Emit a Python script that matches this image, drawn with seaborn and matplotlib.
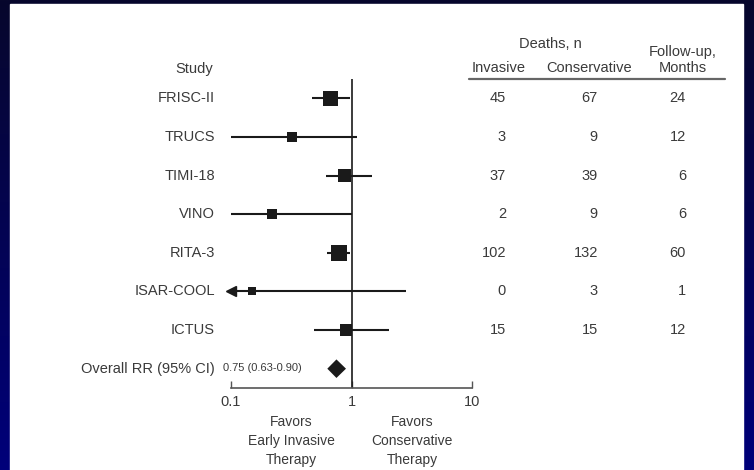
import numpy as np
import pandas as pd
import matplotlib
matplotlib.use("Agg")
import matplotlib.pyplot as plt
import matplotlib.transforms as mtransforms
from matplotlib.colors import LinearSegmentedColormap
from matplotlib.patches import Rectangle
from matplotlib.ticker import NullLocator
import seaborn as sns

# data
studies = ["FRISC-II", "TRUCS", "TIMI-18", "VINO", "RITA-3", "ISAR-COOL", "ICTUS"]
rr = [0.67, 0.32, 0.88, 0.22, 0.79, 0.15, 0.90]
ci_low = [0.47, 0.10, 0.62, 0.10, 0.63, 0.05, 0.49]
ci_high = [0.98, 1.12, 1.49, 1.00, 0.98, 2.86, 2.03]
weight = [15, 10, 13, 10, 16, 8, 12]  # relative box size
deaths_invasive = [45, 3, 37, 2, 102, 0, 15]
deaths_conservative = [67, 9, 39, 9, 132, 3, 15]
followup_months = [24, 12, 6, 6, 60, 1, 12]

overall_rr = 0.75
overall_low = 0.63
overall_high = 0.90

ink = "#1a1a1a"
txt = "#3a3a3a"

sns.set_theme(style="white")
plt.rcParams["font.family"] = ["Liberation Sans", "DejaVu Sans"]

W, H = 754, 470
fig = plt.figure(figsize=(W / 100, H / 100), dpi=100)

# slide background: navy gradient with white panel
bg = fig.add_axes([0, 0, 1, 1], zorder=-10)
grad = np.linspace(0, 1, 256).reshape(-1, 1)
cmap = LinearSegmentedColormap.from_list("slide", ["#07072c", "#00007a"])
bg.imshow(grad, aspect="auto", cmap=cmap, extent=[0, 1, 0, 1], origin="upper")
bg.add_patch(Rectangle((10 / W, 0), (743 - 10) / W, (H - 4) / H,
                       transform=bg.transAxes, color="white"))
bg.set_xlim(0, 1)
bg.set_ylim(0, 1)
bg.axis("off")

# forest plot axes
ax = fig.add_axes([231 / W, (H - 388) / H, 241 / W, (388 - 79) / H])
ax.patch.set_alpha(0)

n = len(studies)
df = pd.DataFrame({
    "study": studies, "rr": rr, "lo": ci_low, "hi": ci_high,
    "weight": weight, "row": np.arange(n),
})

ax.set_xscale("log")
ax.set_xlim(0.1, 10)
ax.set_ylim(n + 0.5, -0.5)

ax.hlines(df["row"], df["lo"].clip(lower=0.1), df["hi"], color=ink, lw=1.5, zorder=2)
trunc = df[df["lo"] < 0.1]
ax.plot(np.full(len(trunc), 0.1), trunc["row"], marker="<", ms=7, color=ink,
        ls="none", clip_on=False, zorder=3)

sns.scatterplot(data=df, x="rr", y="row", marker="s", s=(df["weight"] * 0.72) ** 2,
                color=ink, linewidth=0, ax=ax, zorder=3, legend=False)

# pooled estimate diamond
ax.fill([overall_low, overall_rr, overall_high, overall_rr],
        [n, n - 0.24, n, n + 0.24], color=ink, lw=0, zorder=3)

ax.axvline(1, color=ink, lw=1.2, zorder=1)

sns.despine(ax=ax, left=True)
ax.spines["bottom"].set_color("#555555")
ax.spines["bottom"].set_linewidth(1.2)
ax.set_yticks([])
ax.set_xticks([0.1, 1, 10])
ax.set_xticklabels(["0.1", "1", "10"])
ax.xaxis.set_minor_locator(NullLocator())
ax.tick_params(axis="x", bottom=True, direction="in", length=5, width=1,
               color="#555555", labelsize=10.5, labelcolor=txt, pad=5)
ax.set_xlabel("")
ax.set_ylabel("")

# text columns: x in figure fraction, y in row units
trans = mtransforms.blended_transform_factory(fig.transFigure, ax.transData)

for i, name in enumerate(studies + ["Overall RR (95% CI)"]):
    ax.text(215 / W, i, name, transform=trans, ha="right", va="center",
            fontsize=10.5, color=txt)

ax.text(223 / W, n - 0.02,
        f"{overall_rr:.2f} ({overall_low:.2f}-{overall_high:.2f})",
        transform=trans, ha="left", va="center", fontsize=8, color=txt)

for col_x, values in zip([506, 598, 686],
                         [deaths_invasive, deaths_conservative, followup_months]):
    for i, v in enumerate(values):
        ax.text(col_x / W, i, str(v), transform=trans, ha="right", va="center",
                fontsize=10.5, color=txt)

ax.text(213 / W, -0.75, "Study", transform=trans, ha="right", va="center",
        fontsize=10.5, color=txt)
ax.text(550 / W, -1.40, "Deaths, n", transform=trans, ha="center", va="center",
        fontsize=10.5, color=txt)
ax.text(499 / W, -0.78, "Invasive", transform=trans, ha="center", va="center",
        fontsize=10.5, color=txt)
ax.text(589 / W, -0.78, "Conservative", transform=trans, ha="center", va="center",
        fontsize=10.5, color=txt)
ax.text(683 / W, -1.19, "Follow-up,", transform=trans, ha="center", va="center",
        fontsize=10.5, color=txt)
ax.text(683 / W, -0.78, "Months", transform=trans, ha="center", va="center",
        fontsize=10.5, color=txt)
ax.plot([469 / W, 725 / W], [-0.49, -0.49], transform=trans, color="#666666",
        lw=1.6, clip_on=False)

fig.text(291 / W, 1 - 441 / H, "Favors\nEarly Invasive\nTherapy", ha="center",
         va="center", linespacing=1.45, fontsize=10, color=txt)
fig.text(412 / W, 1 - 441 / H, "Favors\nConservative\nTherapy", ha="center",
         va="center", linespacing=1.45, fontsize=10, color=txt)

fig.savefig("out.png", dpi=100)
